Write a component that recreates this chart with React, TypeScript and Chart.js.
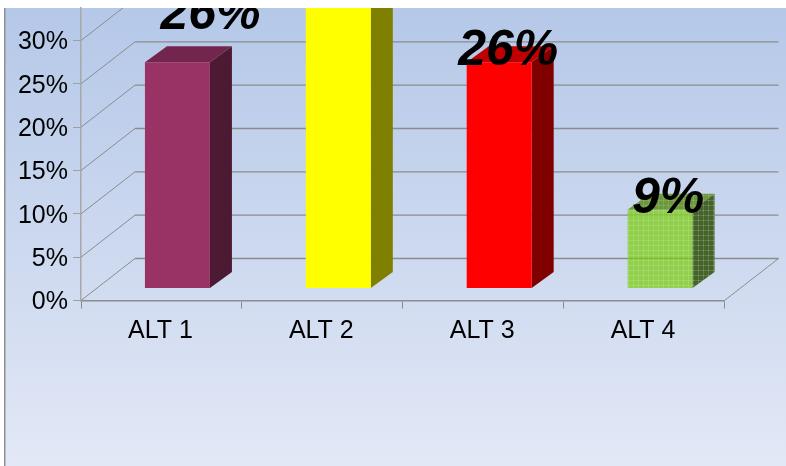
import React, { useEffect, useRef } from "react";
import { Chart, registerables } from "chart.js";

Chart.register(...registerables);

const categories = ["ALT 1", "ALT 2", "ALT 3", "ALT 4"];
const shares = [26.1, 39, 26.1, 9.1];
const barLabels = ["26%", "39%", "26%", "9%"];
const frontColors = ["#993366", "#FFFF00", "#FF0000", "#92D050"];
const sideColors = ["#4D1A33", "#808000", "#800000", "#4A6A29"];
const topColors = ["#73264D", "#BFBF00", "#BF0000", "#6E9C3D"];
const labelNudgeX = [33, 9, 9, 8];
const labelNudgeY = [-33, 3, 3, 3];

const WALL_DX = 54;
const WALL_DY = -42;
const BAR_DX = 16;
const BAR_DY = -12;
const DEPTH_X = 22;
const DEPTH_Y = -16;
const PLOT_LEFT = 5;
const PLOT_TOP = 8;

function makePattern(base: string, mid: string, light: string) {
  const c = document.createElement("canvas");
  c.width = 5;
  c.height = 5;
  const g = c.getContext("2d")!;
  g.fillStyle = base;
  g.fillRect(0, 0, 5, 5);
  g.clearRect(0, 2, 5, 1);
  g.clearRect(2, 0, 1, 5);
  g.fillStyle = mid;
  g.fillRect(0, 2, 5, 1);
  g.fillRect(2, 0, 1, 2);
  g.fillRect(2, 3, 1, 2);
  g.clearRect(2, 2, 1, 1);
  g.fillStyle = light;
  g.fillRect(2, 2, 1, 1);
  return g.createPattern(c, "repeat")!;
}

function makeScene(sideFills: any[], topFills: any[]) {
  return {
    id: "scene",
    beforeDraw(chart: any) {
      const { ctx, width, height } = chart;
      ctx.save();
      const grad = ctx.createLinearGradient(0, PLOT_TOP, 0, height);
      grad.addColorStop(0, "#B5C8E8");
      grad.addColorStop(1, "#E2E8F6");
      ctx.fillStyle = grad;
      ctx.fillRect(PLOT_LEFT, PLOT_TOP, width - PLOT_LEFT, height - PLOT_TOP);
      ctx.fillStyle = "#8F8F8F";
      ctx.fillRect(PLOT_LEFT - 1, PLOT_TOP, 1.5, height - PLOT_TOP);
      ctx.restore();
    },
    beforeDatasetsDraw(chart: any) {
      const { ctx, chartArea, scales } = chart;
      const { left, right, bottom } = chartArea;
      ctx.save();
      ctx.beginPath();
      ctx.rect(PLOT_LEFT, PLOT_TOP, chart.width, chart.height);
      ctx.clip();
      ctx.strokeStyle = "#8C8C8C";
      for (const t of scales.y.ticks) {
        const y = scales.y.getPixelForValue(t.value);
        ctx.lineWidth = 1;
        ctx.beginPath();
        ctx.moveTo(left, y);
        ctx.lineTo(left + WALL_DX, y + WALL_DY);
        ctx.stroke();
        ctx.lineWidth = 1.4;
        ctx.beginPath();
        ctx.moveTo(left + WALL_DX, y + WALL_DY);
        ctx.lineTo(right + WALL_DX, y + WALL_DY);
        ctx.stroke();
      }
      ctx.lineWidth = 1;
      ctx.beginPath();
      ctx.moveTo(right, bottom);
      ctx.lineTo(right + WALL_DX, bottom + WALL_DY);
      ctx.stroke();
      ctx.restore();
    },
    beforeDatasetDraw(chart: any, args: any) {
      const { ctx } = chart;
      const meta = chart.getDatasetMeta(args.index);
      ctx.save();
      ctx.beginPath();
      ctx.rect(PLOT_LEFT, PLOT_TOP, chart.width, chart.height);
      ctx.clip();
      ctx.translate(BAR_DX, BAR_DY);
      meta.data.forEach((bar: any, i: number) => {
        const l = bar.x - bar.width / 2;
        const r = bar.x + bar.width / 2;
        ctx.fillStyle = sideFills[i];
        ctx.beginPath();
        ctx.moveTo(r, bar.y);
        ctx.lineTo(r + DEPTH_X, bar.y + DEPTH_Y);
        ctx.lineTo(r + DEPTH_X, bar.base + DEPTH_Y);
        ctx.lineTo(r, bar.base);
        ctx.closePath();
        ctx.fill();
        ctx.fillStyle = topFills[i];
        ctx.beginPath();
        ctx.moveTo(l, bar.y);
        ctx.lineTo(l + DEPTH_X, bar.y + DEPTH_Y);
        ctx.lineTo(r + DEPTH_X, bar.y + DEPTH_Y);
        ctx.lineTo(r, bar.y);
        ctx.closePath();
        ctx.fill();
      });
    },
    afterDatasetDraw(chart: any) {
      chart.ctx.restore();
    },
    afterDraw(chart: any) {
      const { ctx } = chart;
      const meta = chart.getDatasetMeta(0);
      ctx.save();
      ctx.beginPath();
      ctx.rect(PLOT_LEFT, PLOT_TOP, chart.width, chart.height);
      ctx.clip();
      ctx.fillStyle = "#000";
      ctx.font = 'italic bold 50px "Liberation Sans"';
      ctx.textAlign = "center";
      ctx.textBaseline = "alphabetic";
      meta.data.forEach((bar: any, i: number) => {
        ctx.fillText(
          barLabels[i],
          bar.x + BAR_DX + labelNudgeX[i],
          bar.y + BAR_DY + labelNudgeY[i]
        );
      });
      ctx.restore();
    },
  };
}

export default function App() {
  const ref = useRef<HTMLCanvasElement>(null);
  useEffect(() => {
    const canvas = ref.current!;
    const fronts: any[] = [...frontColors];
    fronts[3] = makePattern("rgba(119,204,6,0.7)", "rgba(138,212,40,0.7)", "rgba(156,221,69,0.7)");
    const sides: any[] = [...sideColors];
    sides[3] = makePattern("#45632A", "#5C7A44", "#86A06C");
    const tops: any[] = [...topColors];
    tops[3] = makePattern("#6B973D", "#7BA350", "#8FB06B");
    const chart: any = new Chart(canvas, {
      type: "bar",
      data: {
        labels: categories,
        datasets: [
          {
            data: shares,
            backgroundColor: fronts,
            borderWidth: 0,
            categoryPercentage: 1,
            barPercentage: 0.404,
            clip: false,
          } as any,
        ],
      },
      options: {
        animation: false,
        responsive: false,
        layout: { padding: { left: 0, right: 61.5, top: 8, bottom: 0 } },
        plugins: { legend: { display: false }, tooltip: { enabled: false } },
        scales: {
          x: {
            afterFit: (s: any) => {
              s.height = 165.5;
              s.paddingLeft = 0;
              s.paddingRight = 0;
            },
            grid: { drawOnChartArea: false, tickLength: 8, color: "#8C8C8C", lineWidth: 1 },
            border: { color: "#8C8C8C", width: 1.5 },
            ticks: {
              color: "#000",
              padding: 8,
              labelOffset: -1,
              font: { family: '"Liberation Sans"', size: 25 },
              maxRotation: 0,
            },
          },
          y: {
            min: 0,
            max: 33.75,
            afterFit: (s: any) => {
              s.width = 81;
              s.paddingTop = 0;
              s.paddingBottom = 0;
            },
            grid: { drawOnChartArea: false, tickLength: 8, color: "#A0A0A0", lineWidth: 1 },
            border: { color: "#A8A8A8", width: 1.5 },
            ticks: {
              stepSize: 5,
              includeBounds: false,
              padding: 5,
              labelOffset: 2,
              color: "#000",
              font: { family: '"Liberation Sans"', size: 25 },
              callback: (v: any) => `${v}%`,
            },
          },
        },
      },
      plugins: [makeScene(sides, tops)],
    });
    return () => chart.destroy();
  }, []);
  return (
    <canvas
      ref={ref}
      width={786}
      height={466}
      style={{ position: "fixed", left: 0, top: 0, width: 786, height: 466 }}
    />
  );
}
